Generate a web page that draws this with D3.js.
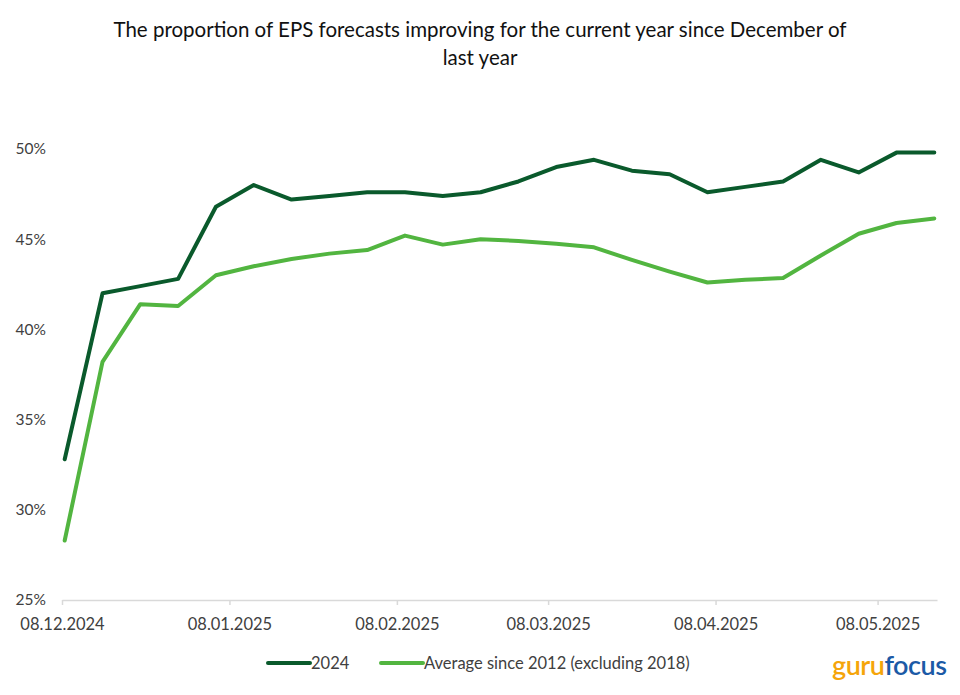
<!DOCTYPE html>
<html>
<head>
<meta charset="utf-8">
<script src="https://cdn.jsdelivr.net/npm/d3@7"></script>
<style>
  html, body { margin: 0; padding: 0; background: #fff; }
  svg { display: block; }
  text { font-family: Lato, "Open Sans", sans-serif; }
</style>
</head>
<body>
<svg id="chart" width="960" height="695"></svg>
<script>
// ---- data ----
const startDate = "2024-12-08";
const weeks = 24;
const series2024 = [32.8, 42.0, 42.4, 42.8, 46.8, 48.0, 47.2, 47.4, 47.6, 47.6, 47.4, 47.6,
                    48.2, 49.0, 49.4, 48.8, 48.6, 47.6, 47.9, 48.2, 49.4, 48.7, 49.8, 49.8];
const seriesAvg  = [28.3, 38.2, 41.4, 41.3, 43.0, 43.5, 43.9, 44.2, 44.4, 45.2, 44.7, 45.0,
                    44.9, 44.75, 44.55, 43.85, 43.2, 42.6, 42.75, 42.85, 44.1, 45.3, 45.9, 46.15];
const seriesNames = ["2024", "Average since 2012 (excluding 2018)"];
const seriesColors = ["#0a5a2c", "#52b540"];
const yTicks = [25, 30, 35, 40, 45, 50];
const xTickDates = ["2024-12-08", "2025-01-08", "2025-02-08", "2025-03-08", "2025-04-08", "2025-05-08"];
const titleLines = ["The proportion of EPS forecasts improving for the current year since December of", "last year"];

// ---- setup ----
const parse = d3.utcParse("%Y-%m-%d");
const fmt = d3.utcFormat("%d.%m.%Y");
const d0 = parse(startDate);
const dates = d3.range(weeks).map(i => d3.utcDay.offset(d0, 7 * i));

const svg = d3.select("#chart");
const x = d3.scaleUtc()
  .domain([d0, d3.utcDay.offset(dates[dates.length - 1], 1)])
  .range([62, 937]);
const y = d3.scaleLinear().domain([25, 50]).range([600, 149]);
const xp = d => x(d3.utcHour.offset(d, 12));

// title
svg.append("g").selectAll("text").data(titleLines).join("text")
  .attr("x", 480).attr("y", (d, i) => 37 + i * 28)
  .attr("text-anchor", "middle")
  .attr("font-size", 20.5).attr("fill", "#111")
  .text(d => d);

// y axis (labels only)
const yAxis = d3.axisLeft(y).tickValues(yTicks).tickSize(0).tickPadding(0)
  .tickFormat(d => d + "%");
const gy = svg.append("g").attr("transform", "translate(46,0)").call(yAxis);
gy.select(".domain").remove();
gy.selectAll("text").attr("font-size", 15.5).attr("fill", "#404040")
  .attr("font-family", "Lato, 'Open Sans', sans-serif");

// x axis
const xAxis = d3.axisBottom(x).tickValues(xTickDates.map(parse)).tickSize(5)
  .tickSizeOuter(0).tickPadding(13).tickFormat(fmt);
const gx = svg.append("g").attr("transform", "translate(0,600)").call(xAxis);
gx.select(".domain").attr("stroke", "#d9d9d9").attr("stroke-width", 1.5);
gx.selectAll(".tick line").attr("stroke", "#d9d9d9").attr("stroke-width", 1.5);
gx.selectAll("text").attr("font-size", 16.5).attr("fill", "#404040")
  .attr("font-family", "Lato, 'Open Sans', sans-serif");

// lines
const line = d3.line().x((d, i) => xp(dates[i])).y(d => y(d));
[series2024, seriesAvg].forEach((s, k) => {
  svg.append("path").datum(s)
    .attr("fill", "none")
    .attr("stroke", seriesColors[k])
    .attr("stroke-width", 4)
    .attr("stroke-linejoin", "round")
    .attr("stroke-linecap", "round")
    .attr("d", line);
});

// legend
const legendX = [268, 381];
const lg = svg.append("g");
seriesNames.forEach((n, k) => {
  lg.append("line").attr("x1", legendX[k]).attr("x2", legendX[k] + 42)
    .attr("y1", 663).attr("y2", 663)
    .attr("stroke", seriesColors[k]).attr("stroke-width", 4).attr("stroke-linecap", "round");
  lg.append("text").attr("x", legendX[k] + 43).attr("y", 669)
    .attr("font-size", 16.5).attr("fill", "#404040").text(n);
});

// logo
const logo = svg.append("text").attr("x", 832).attr("y", 675)
  .attr("font-size", 27).attr("font-weight", 600).attr("letter-spacing", -0.5)
  .attr("font-family", "'Open Sans', sans-serif");
logo.append("tspan").attr("fill", "#f5a50a").text("guru");
logo.append("tspan").attr("fill", "#1c5aa6").text("focus");
</script>
</body>
</html>
